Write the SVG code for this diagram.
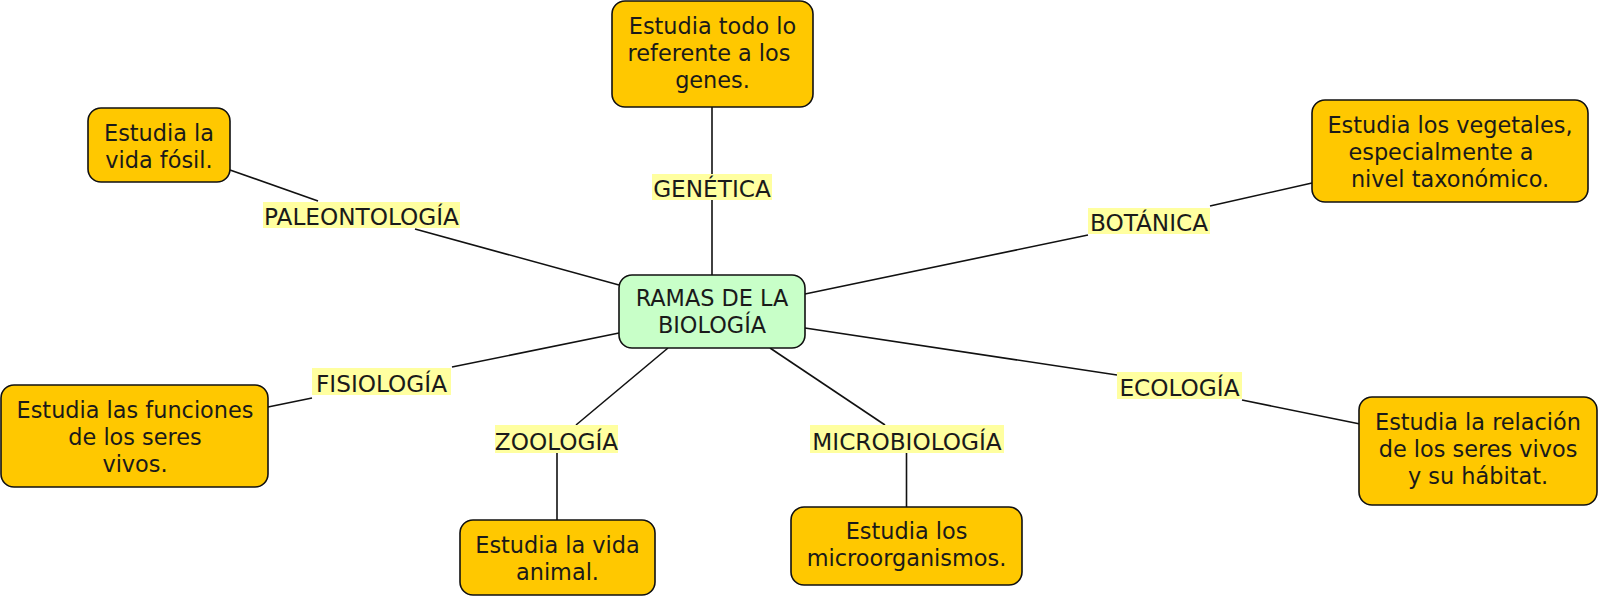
<svg xmlns="http://www.w3.org/2000/svg" width="1600" height="599" viewBox="0 0 1600 599">
<style>
.n{fill:#FFC800;stroke:#111;stroke-width:1.6}
.c{fill:#C8FFC8;stroke:#111;stroke-width:1.6}
.t{font-family:"DejaVu Sans",Verdana,sans-serif;font-size:22.4px;fill:#1a1a1a;text-anchor:middle}
.l{font-size:23.2px}
.lb{fill:#FFFFA0}
.e{stroke:#111;stroke-width:1.6;fill:none}
</style>
<rect width="1600" height="599" fill="#fff"/>
<g id="connectors">
<line class="e" x1="712" y1="107" x2="712" y2="174"/>
<line class="e" x1="712" y1="200" x2="712" y2="275"/>
<line class="e" x1="230" y1="170" x2="318" y2="201"/>
<line class="e" x1="415" y1="229" x2="619" y2="285"/>
<line class="e" x1="1312" y1="183" x2="1210" y2="206"/>
<line class="e" x1="1088" y1="235" x2="805" y2="294"/>
<line class="e" x1="268" y1="407" x2="312" y2="398"/>
<line class="e" x1="452" y1="367" x2="619" y2="333"/>
<line class="e" x1="576" y1="425" x2="668" y2="348"/>
<line class="e" x1="557" y1="453" x2="557" y2="520"/>
<line class="e" x1="885" y1="425" x2="770" y2="348"/>
<line class="e" x1="906.5" y1="453" x2="906.5" y2="507"/>
<line class="e" x1="805" y1="328" x2="1117" y2="375"/>
<line class="e" x1="1242" y1="400" x2="1360" y2="424"/>
</g>
<g id="labels">
<g id="l-genetica"><rect class="lb" x="652" y="174" width="120" height="26"/><text class="t l" x="712" y="197">GENÉTICA</text></g>
<g id="l-paleo"><rect class="lb" x="263" y="202" width="197" height="26"/><text class="t l" x="361.5" y="225">PALEONTOLOGÍA</text></g>
<g id="l-botanica"><rect class="lb" x="1088" y="208" width="122" height="26"/><text class="t l" x="1149" y="231">BOTÁNICA</text></g>
<g id="l-fisio"><rect class="lb" x="312" y="368" width="139" height="27"/><text class="t l" x="381.5" y="392">FISIOLOGÍA</text></g>
<g id="l-zoo"><rect class="lb" x="495" y="425" width="123" height="28"/><text class="t l" x="556.5" y="450">ZOOLOGÍA</text></g>
<g id="l-micro"><rect class="lb" x="810" y="425" width="194" height="28"/><text class="t l" x="907" y="450">MICROBIOLOGÍA</text></g>
<g id="l-eco"><rect class="lb" x="1117" y="372" width="125" height="27"/><text class="t l" x="1179.5" y="396">ECOLOGÍA</text></g>
</g>
<g id="center"><rect class="c" x="619" y="275" width="186" height="73" rx="13"/><text class="t" x="712" y="306">RAMAS DE LA</text><text class="t" x="712" y="333">BIOLOGÍA</text></g>
<g id="genes"><rect class="n" x="612" y="1" width="201" height="106" rx="13"/><text class="t" x="712.5" y="34">Estudia todo lo</text><text class="t" x="709" y="61">referente a los</text><text class="t" x="712.5" y="88">genes.</text></g>
<g id="fosil"><rect class="n" x="88" y="108" width="142" height="74" rx="13"/><text class="t" x="159" y="141">Estudia la</text><text class="t" x="159" y="168">vida fósil.</text></g>
<g id="vegetales"><rect class="n" x="1312" y="100" width="276" height="102" rx="13"/><text class="t" x="1450" y="133">Estudia los vegetales,</text><text class="t" x="1441" y="160">especialmente a</text><text class="t" x="1450" y="187">nivel taxonómico.</text></g>
<g id="funciones"><rect class="n" x="1" y="385" width="267" height="102" rx="13"/><text class="t" x="135" y="418">Estudia las funciones</text><text class="t" x="135" y="445">de los seres</text><text class="t" x="135" y="472">vivos.</text></g>
<g id="animal"><rect class="n" x="460" y="520" width="195" height="75" rx="13"/><text class="t" x="557.5" y="553">Estudia la vida</text><text class="t" x="557.5" y="580">animal.</text></g>
<g id="micro"><rect class="n" x="791" y="507" width="231" height="78" rx="13"/><text class="t" x="906.5" y="539">Estudia los</text><text class="t" x="906.5" y="566">microorganismos.</text></g>
<g id="ecologia"><rect class="n" x="1359" y="397" width="238" height="108" rx="13"/><text class="t" x="1478" y="430">Estudia la relación</text><text class="t" x="1478" y="457">de los seres vivos</text><text class="t" x="1478" y="484">y su hábitat.</text></g>
</svg>
